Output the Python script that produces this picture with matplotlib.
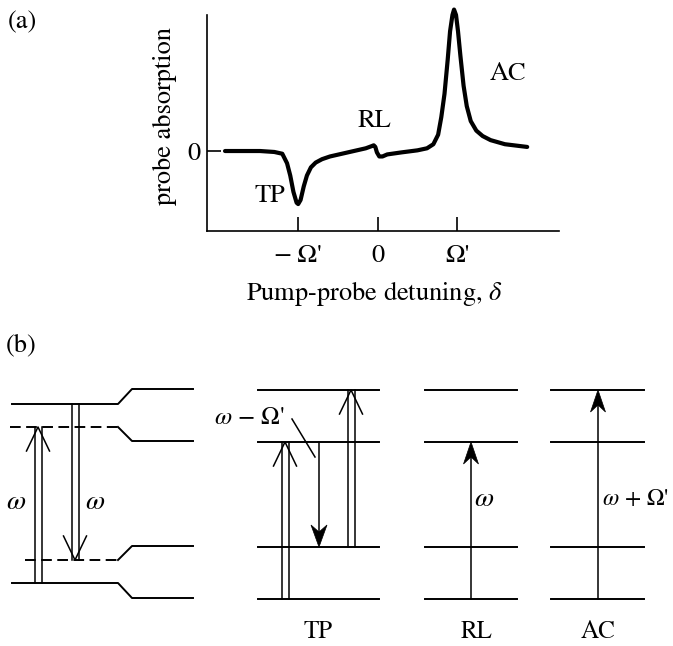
import matplotlib
matplotlib.use('Agg')
import matplotlib.pyplot as plt
from matplotlib.patches import Polygon

plt.rcParams['font.family'] = ['STIXGeneral', 'DejaVu Serif']
plt.rcParams['mathtext.fontset'] = 'stix'

W, H = 673, 646
FS = 19

# ---------------- Panel (a) data ----------------
detuning = [-1.92, -1.48, -1.30, -1.20, -1.14, -1.10, -1.06, -1.02, -1.00, -0.97,
            -0.93, -0.89, -0.84, -0.78, -0.70, -0.60, -0.45, -0.30, -0.15, -0.08,
            -0.05, -0.03, -0.01, 0.02, 0.06, 0.12, 0.30, 0.50, 0.62, 0.70,
            0.76, 0.80, 0.84, 0.88, 0.91, 0.94, 0.96, 0.985, 1.01, 1.04,
            1.08, 1.12, 1.17, 1.24, 1.32, 1.42, 1.60, 1.88]
absorption = [0.0, 0.0, -0.007, -0.02, -0.09, -0.18, -0.30, -0.38, -0.39, -0.36,
              -0.26, -0.18, -0.12, -0.085, -0.06, -0.04, -0.02, 0.0, 0.02, 0.035,
              0.042, 0.03, -0.01, -0.04, -0.04, -0.025, -0.01, 0.005, 0.02, 0.05,
              0.12, 0.25, 0.42, 0.67, 0.88, 1.0, 1.04, 1.0, 0.88, 0.70,
              0.48, 0.33, 0.22, 0.15, 0.11, 0.08, 0.05, 0.03]
xtick_pos = [-1, 0, 1]
xtick_labels = ["\u2212\u2009\u03a9'", "0", "\u03a9'"]
peak_labels = ["TP", "RL", "AC"]
peak_label_pos = [(-1.355, -0.33), (-0.047, 0.22), (1.64, 0.566)]

# ---------------- Panel (b) data (schematic, pixel units) ----------------
level_y = [390, 442, 547, 599]
diagram_x = {"TP": (258, 379), "RL": (425, 517), "AC": (551, 644)}
diagram_labels = ["TP", "RL", "AC"]
diagram_label_x = [318, 477, 598]

fig = plt.figure(figsize=(W / 100, H / 100), dpi=100)

# axes (a)
ax = fig.add_axes([207.3 / W, 1 - 231 / H, (559 - 207.3) / W, (231 - 15) / H])
ax.plot(detuning, absorption, color='black', lw=3.0, clip_on=False,
        solid_capstyle='round', solid_joinstyle='round')
ax.set_xlim(-2.143, 2.28)
ax.set_ylim(-0.588, 1.0)
for s in ['top', 'right']:
    ax.spines[s].set_visible(False)
for s in ['left', 'bottom']:
    ax.spines[s].set_linewidth(1.2)
ax.set_xticks(xtick_pos)
ax.set_xticklabels(xtick_labels, fontsize=FS)
ax.set_yticks([0])
ax.set_yticklabels(["0"], fontsize=FS)
ax.tick_params(axis='x', direction='in', length=10, width=1.2, pad=9)
ax.tick_params(axis='y', direction='in', length=10, width=1.2, pad=5)
for lab, (px, py) in zip(peak_labels, peak_label_pos):
    ax.text(px, py, lab, fontsize=FS, ha='center', va='center')

fig.text(374.5 / W, 1 - 293 / H, r"Pump-probe detuning, $\delta$", fontsize=FS,
         ha='center', va='center')
fig.text(165 / W, 1 - 116 / H, "probe absorption", fontsize=FS, rotation=90,
         ha='center', va='center')
fig.text(22 / W, 1 - 22 / H, "(a)", fontsize=FS, ha='center', va='center')
fig.text(21 / W, 1 - 345 / H, "(b)", fontsize=FS, ha='center', va='center')

# overlay axes for (b)
ov = fig.add_axes([0, 0, 1, 1], zorder=-1)
ov.set_xlim(0, W)
ov.set_ylim(H, 0)
ov.axis('off')

LW = 1.4
AW = 1.1

# left diagram: shifted levels
ov.plot([12, 118, 132, 193], [404, 404, 389, 389], color='k', lw=LW)
ov.plot([10, 118], [427, 427], color='k', lw=LW, ls=(0, (5.5, 2.8)))
ov.plot([118, 132, 193], [427, 441, 441], color='k', lw=LW)
ov.plot([25, 118], [560, 560], color='k', lw=LW, ls=(0, (5.5, 2.8)))
ov.plot([118, 132, 193], [560, 546, 546], color='k', lw=LW)
ov.plot([12, 118, 132, 193], [583, 583, 598, 598], color='k', lw=LW)

for name, (x0, x1) in diagram_x.items():
    for y in level_y:
        ov.plot([x0, x1], [y, y], color='k', lw=LW)


def double_arrow(x, y0, y1, sep=7, hw=11.5, hl=24):
    d = -1 if y1 < y0 else 1
    for dx in (-sep / 2, sep / 2):
        ov.plot([x + dx, x + dx], [y0, y1], color='k', lw=AW)
    ov.plot([x - hw, x, x + hw], [y1 - d * hl, y1, y1 - d * hl], color='k', lw=AW)


def filled_arrow(x, y0, y1, hw=7.5, hl=22, notch=7):
    d = -1 if y1 < y0 else 1
    ov.plot([x, x], [y0, y1 - d * 5], color='k', lw=AW)
    ov.add_patch(Polygon([(x, y1), (x - hw, y1 - d * hl), (x, y1 - d * (hl - notch)),
                          (x + hw, y1 - d * hl)], closed=True, fc='k', ec='k', lw=0.5))


double_arrow(38, 583, 427)
double_arrow(75, 404, 560)
double_arrow(285, level_y[3], level_y[1])
double_arrow(351, level_y[2], level_y[0])
filled_arrow(319, level_y[1], level_y[2], hw=8)
filled_arrow(471, level_y[3], level_y[1])
filled_arrow(598, level_y[3], level_y[0])
ov.plot([292, 315], [419, 457], color='k', lw=AW)

ov.text(16, 502, r"$\omega$", fontsize=FS + 1, ha='center', va='center')
ov.text(95, 502, r"$\omega$", fontsize=FS + 1, ha='center', va='center')
ov.text(249, 418, "$\\omega$ \u2212 \u03a9'", fontsize=FS - 1, ha='center', va='center')
ov.text(484, 499, r"$\omega$", fontsize=FS + 1, ha='center', va='center')
ov.text(602, 499, "$\\omega$ + \u03a9'", fontsize=FS - 2, ha='left', va='center')
for lab, lx in zip(diagram_labels, diagram_label_x):
    ov.text(lx, 632, lab, fontsize=FS - 1, ha='center', va='center')

fig.savefig('out.png', dpi=100)
